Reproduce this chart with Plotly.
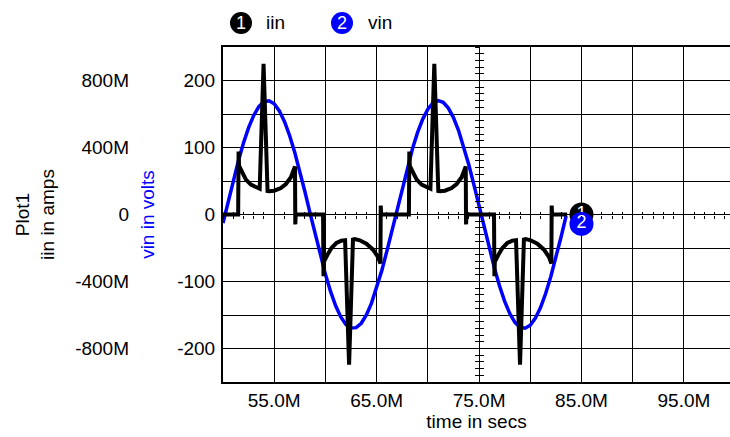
import plotly.graph_objects as go

# ---------------- data ----------------
# vin: input voltage, volts, sampled every 0.5 ms (time in ms)
vin_time_ms = [50.0, 50.5, 51.0, 51.5, 52.0, 52.5, 53.0, 53.5, 54.0, 54.5,
               55.0, 55.5, 56.0, 56.5, 57.0, 57.5, 58.0, 58.5, 59.0, 59.5,
               60.0, 60.5, 61.0, 61.5, 62.0, 62.5, 63.0, 63.5, 64.0, 64.5,
               65.0, 65.5, 66.0, 66.5, 67.0, 67.5, 68.0, 68.5, 69.0, 69.5,
               70.0, 70.5, 71.0, 71.5, 72.0, 72.5, 73.0, 73.5, 74.0, 74.5,
               75.0, 75.5, 76.0, 76.5, 77.0, 77.5, 78.0, 78.5, 79.0, 79.5,
               80.0, 80.5, 81.0, 81.5, 82.0, 82.5, 83.0, 83.5]
vin_volts = [-12.8, 19.2, 50.5, 80.0, 106.7, 129.7, 147.9, 161.0, 168.4, 169.8,
             165.2, 154.7, 138.8, 117.9, 92.9, 64.5, 33.9, 2.1, -29.7, -60.6,
             -89.3, -114.8, -136.3, -152.9, -164.1, -169.5, -168.9, -162.3, -150.0, -132.3,
             -110.0, -83.8, -54.6, -23.4, 8.5, 40.2, 70.4, 98.2, 122.5, 142.4,
             157.3, 166.6, 170.0, 167.4, 158.8, 144.7, 125.4, 101.6, 74.3, 44.3,
             12.8, -19.2, -50.5, -80.0, -106.7, -129.7, -147.9, -161.0, -168.4, -169.8,
             -165.2, -154.7, -138.8, -117.9, -92.9, -64.5, -33.9, -2.1]

# iin: input current, amps (time in ms)
iin_time_ms = [50.00, 51.48, 51.52, 51.57, 51.91, 52.24, 52.72, 53.21, 53.58, 53.96,
               54.35, 54.51, 55.00, 55.65, 56.14, 56.63, 57.03, 57.06, 57.10,
               59.77, 59.81, 59.85, 60.26, 60.59, 61.07, 61.56, 61.92, 62.31,
               62.69, 62.86, 63.35, 64.00, 64.65, 65.14, 65.37, 65.40, 65.44,
               68.15, 68.19, 68.24, 68.58, 68.91, 69.39, 69.88, 70.25, 70.63,
               71.02, 71.18, 71.67, 72.32, 72.81, 73.30, 73.70, 73.73, 73.77,
               76.46, 76.50, 76.54, 76.95, 77.28, 77.76, 78.25, 78.61, 79.00,
               79.38, 79.55, 80.04, 80.69, 81.34, 81.83, 82.06, 82.09, 82.13, 83.60]
iin_amps = [0.0, 0.0, 0.376, 0.290, 0.248, 0.208, 0.178, 0.162, 0.154, 0.900,
            0.140, 0.139, 0.142, 0.158, 0.182, 0.222, 0.287, -0.059, 0.0,
            0.0, -0.368, -0.283, -0.234, -0.200, -0.170, -0.156, -0.154, -0.897,
            -0.150, -0.147, -0.154, -0.174, -0.210, -0.254, -0.293, 0.053, 0.0,
            0.0, 0.376, 0.290, 0.248, 0.208, 0.178, 0.162, 0.154, 0.900,
            0.140, 0.139, 0.142, 0.158, 0.182, 0.222, 0.287, -0.059, 0.0,
            0.0, -0.368, -0.283, -0.234, -0.200, -0.170, -0.156, -0.154, -0.897,
            -0.150, -0.147, -0.154, -0.174, -0.210, -0.254, -0.293, 0.053, 0.0, 0.0]

# trace-number labels at the end of the curves
trace_names = ["iin", "vin"]
trace_numbers = ["1", "2"]
trace_colors = ["#000000", "#0000ff"]
end_label_time_ms = [85.0, 85.0]
end_label_volts = [0.0, -14.0]

# axis ticks / labels
x_grid_ms = [50, 55, 60, 65, 70, 75, 80, 85, 90, 95]
x_tick_text = ["", "55.0M", "", "65.0M", "", "75.0M", "", "85.0M", "", "95.0M"]
vin_grid = [-250, -200, -150, -100, -50, 0, 50, 100, 150, 200, 250]
vin_tick_text = ["", "-200", "", "-100", "", "0", "", "100", "", "200", ""]
iin_tick_vals = [-0.8, -0.4, 0.0, 0.4, 0.8]
iin_tick_text = ["-800M", "-400M", "0", "400M", "800M"]

# ---------------- layout constants ----------------
W, H = 730, 437
PLOT_L, PLOT_T, PLOT_B = 223, 47, 382
X_RANGE = [50, 99.5]
VIN_RANGE = [-250, 250]
IIN_RANGE = [-1.0, 1.0]
CROSS_T = 75
FONT = "Liberation Sans, Arial, sans-serif"
FS = 19

x0 = PLOT_L / W
def px_x(p):
    return p / W
def px_y(p):
    return (PLOT_B - p) / (PLOT_B - PLOT_T)
cross_pos = x0 + (CROSS_T - X_RANGE[0]) / (X_RANGE[1] - X_RANGE[0]) * (1 - x0)

fig = go.Figure()
# empty traces so that the cross-hair tick axes are drawn
fig.add_trace(go.Scatter(x=[], y=[], xaxis="x3", yaxis="y", showlegend=False, hoverinfo="skip"))
fig.add_trace(go.Scatter(x=[], y=[], xaxis="x4", yaxis="y", showlegend=False, hoverinfo="skip"))
fig.add_trace(go.Scatter(x=[], y=[], xaxis="x", yaxis="y3", showlegend=False, hoverinfo="skip"))
fig.add_trace(go.Scatter(x=[], y=[], xaxis="x", yaxis="y4", showlegend=False, hoverinfo="skip"))

fig.add_trace(go.Scatter(x=vin_time_ms, y=vin_volts, mode="lines", name="vin",
                         line=dict(color=trace_colors[1], width=3.5), yaxis="y",
                         showlegend=False, hoverinfo="skip"))
fig.add_trace(go.Scatter(x=iin_time_ms, y=iin_amps, mode="lines", name="iin",
                         line=dict(color=trace_colors[0], width=4), yaxis="y2",
                         showlegend=False, hoverinfo="skip"))
for i in range(2):
    fig.add_trace(go.Scatter(x=[end_label_time_ms[i]], y=[end_label_volts[i]],
                             mode="markers+text", text=[trace_numbers[i]],
                             textposition="middle center",
                             textfont=dict(color="white", size=18, family=FONT),
                             marker=dict(size=24, color=trace_colors[i]),
                             yaxis="y", showlegend=False, hoverinfo="skip"))

common_grid = dict(showgrid=True, gridcolor="#000000", gridwidth=1, zeroline=False,
                   fixedrange=True, automargin=False)
cross_ax = dict(showgrid=False, zeroline=False, showline=False, showticklabels=False,
                tickcolor="#000000", tickwidth=1, fixedrange=True, automargin=False)

fig.update_layout(
    width=W, height=H,
    margin=dict(l=0, r=0, t=PLOT_T, b=H - PLOT_B, pad=0),
    paper_bgcolor="white", plot_bgcolor="white",
    font=dict(family=FONT, size=FS, color="black"),
    xaxis=dict(domain=[x0, 1], range=X_RANGE, tickmode="array", tickvals=x_grid_ms,
               ticktext=x_tick_text, ticks="", showline=True, linecolor="black",
               linewidth=2, mirror=True,
               title=dict(text="time in secs", standoff=2, font=dict(size=FS)),
               **common_grid),
    yaxis=dict(domain=[0, 1], range=VIN_RANGE, tickmode="array", tickvals=vin_grid,
               ticktext=vin_tick_text, ticks="", showline=True, linecolor="black",
               linewidth=2, mirror=False, anchor="x", ticklabelstandoff=2,
               title=dict(text="vin in volts", standoff=18,
                          font=dict(color="#0000ff", size=FS)),
               **common_grid),
    yaxis2=dict(overlaying="y", anchor="free", position=px_x(129), side="left",
                range=IIN_RANGE, tickmode="array", tickvals=iin_tick_vals,
                ticktext=iin_tick_text, ticks="", showgrid=False, zeroline=False,
                showline=False, fixedrange=True, automargin=False,
                title=dict(text="Plot1<br>iin in amps", standoff=14,
                           font=dict(size=FS))),
    xaxis3=dict(overlaying="x", anchor="free", position=0.5, domain=[x0, 1],
                range=X_RANGE, tickmode="linear", tick0=50, dtick=1,
                ticks="inside", ticklen=3, **cross_ax),
    xaxis4=dict(overlaying="x", anchor="free", position=0.5, domain=[x0, 1],
                range=X_RANGE, tickmode="linear", tick0=50, dtick=1,
                ticks="outside", ticklen=3, **cross_ax),
    yaxis3=dict(overlaying="y", anchor="free", position=cross_pos, range=VIN_RANGE,
                tickmode="linear", tick0=0, dtick=10, ticks="inside", ticklen=4,
                **cross_ax),
    yaxis4=dict(overlaying="y", anchor="free", position=cross_pos, range=VIN_RANGE,
                tickmode="linear", tick0=0, dtick=10, ticks="outside", ticklen=4,
                **cross_ax),
)

# legend: numbered circles + names above the plot
leg_y = px_y(23)
leg_circle_x = [241, 342]
leg_text_x = [264, 366]
for i in range(2):
    fig.add_shape(type="circle", xref="paper", yref="paper", xsizemode="pixel",
                  ysizemode="pixel", xanchor=px_x(leg_circle_x[i]), yanchor=leg_y,
                  x0=-11, x1=11, y0=-11, y1=11, fillcolor=trace_colors[i],
                  line=dict(width=0))
    fig.add_annotation(x=px_x(leg_circle_x[i]), y=leg_y, xref="paper", yref="paper",
                       text=trace_numbers[i], showarrow=False, xanchor="center",
                       yanchor="middle", font=dict(color="white", size=18))
    fig.add_annotation(x=px_x(leg_text_x[i]), y=leg_y, xref="paper", yref="paper",
                       text=trace_names[i], showarrow=False, xanchor="left",
                       yanchor="middle", font=dict(color="black", size=FS))

fig.write_html("out.html", config={"displayModeBar": False},
               post_script="document.body.style.margin='0px';")
